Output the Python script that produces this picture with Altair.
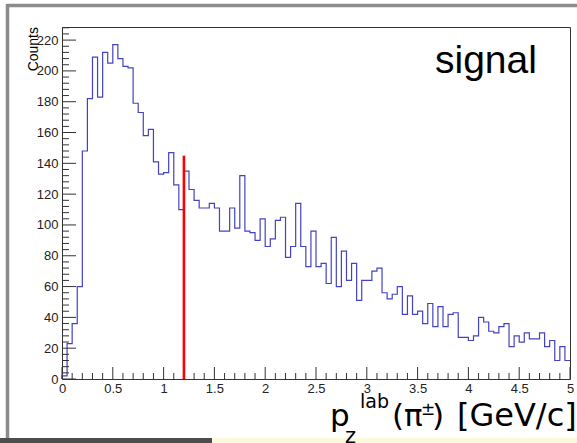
import altair as alt
import pandas as pd

# ---------------- data ----------------
counts = [2, 23, 36, 60, 148, 182, 209, 183, 212, 205,
          217, 208, 203, 202, 179, 173, 158, 162, 141, 133,
          134, 147, 126, 110, 135, 123, 116, 111, 111, 114,
          111, 96, 96, 111, 98, 132, 96, 95, 90, 104,
          86, 91, 103, 105, 79, 86, 114, 86, 73, 96,
          73, 75, 62, 92, 60, 83, 64, 75, 51, 64,
          64, 70, 72, 56, 52, 55, 60, 42, 54, 42,
          44, 36, 49, 34, 47, 34, 42, 43, 27, 27,
          25, 28, 40, 37, 31, 30, 34, 36, 21, 28,
          24, 30, 26, 26, 30, 21, 25, 12, 21, 12]
x_min, x_max, n_bins = 0.0, 5.0, 100
y_max = 228.5
cut_x = 1.2
cut_height = 145

x_major = [0, 0.5, 1, 1.5, 2, 2.5, 3, 3.5, 4, 4.5, 5]
x_minor = [round(i * 0.1, 2) for i in range(51) if i % 5 != 0]
y_major = list(range(0, 221, 20))
y_minor = [v for v in range(0, 229, 4) if v % 20 != 0]

# ---------------- layout ----------------
W, H = 508, 352
PAD_L, PAD_T = 62, 27
PAD_R = 577 - PAD_L - W
PAD_B = 443 - PAD_T - H

width_bin = (x_max - x_min) / n_bins
edges = [x_min + i * width_bin for i in range(n_bins)]
hist = pd.DataFrame({
    "i": list(range(n_bins + 2)),
    "x": [x_min] + edges + [x_max],
    "y": [0] + counts + [counts[-1]],
})

xs = alt.Scale(domain=[x_min, x_max], nice=False, zero=False)
ys = alt.Scale(domain=[0, y_max], nice=False, zero=True)

FONT = "Liberation Sans"
TXT = "#222222"

XAX = alt.Axis(values=x_major, format="~g", ticks=False, domain=False, grid=False,
               labelFont=FONT, labelFontSize=13, labelColor=TXT, labelPadding=3,
               title=None, labelFlush=False, labelOverlap=False)
YAX = alt.Axis(values=y_major, format="d", ticks=False, domain=False, grid=False,
               labelFont=FONT, labelFontSize=13, labelColor=TXT, labelPadding=4,
               title=None, labelFlush=False, labelOverlap=False)

hist_line = alt.Chart(hist).mark_line(
    interpolate="step-after", color="#4343c0", strokeWidth=1.2
).encode(
    x=alt.X("x:Q", scale=xs, axis=XAX),
    y=alt.Y("y:Q", scale=ys, axis=YAX),
    order=alt.Order("i:Q"),
)

# ticks drawn inward (ROOT style)
ymaj = alt.Chart(pd.DataFrame({"v": y_major})).mark_rule(color="#333", strokeWidth=1).encode(
    y=alt.Y("v:Q", scale=ys, axis=YAX), x=alt.value(0), x2=alt.value(14))
ymin = alt.Chart(pd.DataFrame({"v": y_minor})).mark_rule(color="#333", strokeWidth=1).encode(
    y=alt.Y("v:Q", scale=ys, axis=YAX), x=alt.value(0), x2=alt.value(7))
xmaj = alt.Chart(pd.DataFrame({"v": x_major})).mark_rule(color="#333", strokeWidth=1).encode(
    x=alt.X("v:Q", scale=xs, axis=XAX), y=alt.value(H), y2=alt.value(H - 12))
xmin = alt.Chart(pd.DataFrame({"v": x_minor})).mark_rule(color="#333", strokeWidth=1).encode(
    x=alt.X("v:Q", scale=xs, axis=XAX), y=alt.value(H), y2=alt.value(H - 6))

cut = alt.Chart(pd.DataFrame({"x": [cut_x], "y0": [0], "y1": [cut_height]})).mark_rule(
    color="#ff0000", strokeWidth=2.6).encode(
    x=alt.X("x:Q", scale=xs, axis=XAX),
    y=alt.Y("y0:Q", scale=ys, axis=YAX), y2="y1:Q")

one = pd.DataFrame({"a": [0]})

def txt(s, x, y, size, font=FONT, **kw):
    return alt.Chart(one).mark_text(
        font=font, fontSize=size, color="#000", align=kw.pop("align", "left"),
        baseline=kw.pop("baseline", "alphabetic"), **kw
    ).encode(x=alt.value(x - PAD_L), y=alt.value(y - PAD_T), text=alt.value(s))

def bar(x1, x2, y1, y2, color, w):
    return alt.Chart(one).mark_rule(color=color, strokeWidth=w).encode(
        x=alt.value(x1 - PAD_L), x2=alt.value(x2 - PAD_L),
        y=alt.value(y1 - PAD_T), y2=alt.value(y2 - PAD_T))

TF = "DejaVu Sans"
texts = [
    txt("signal", 435, 73, 39),
    txt("Counts", 37.5, 27, 14, angle=270, align="right"),
    txt("p", 330, 426, 31, font=TF),
    txt("z", 345, 443, 21, font=TF),
    txt("lab", 360, 408, 19, font=TF),
    txt("(\u03c0", 392, 426, 31, font=TF),
    txt("\u00b1", 421, 415, 17, font=TF),
    txt(")", 432, 426, 31, font=TF),
    txt("[GeV/c]", 457, 426, 32, font=TF),
]

frame = [
    bar(7, 577, 5.5, 5.5, "#8c8c8c", 3.5),
    bar(7.5, 7.5, 4, 443, "#8c8c8c", 3.5),
    bar(212, 577, 440.5, 440.5, "#fbf8dc", 5),
    bar(0, 212, 440.5, 440.5, "#4d4d4d", 5),
]

chart = alt.layer(
    hist_line, xmin, xmaj, ymin, ymaj, cut, *frame, *texts
).properties(
    width=W, height=H,
    padding={"left": PAD_L, "top": PAD_T, "right": PAD_R, "bottom": PAD_B},
    autosize=alt.AutoSizeParams(type="none"),
    background="white",
).configure_view(stroke="#333", strokeWidth=1)

chart.save("out.html", embed_options={"renderer": "svg", "actions": False})
